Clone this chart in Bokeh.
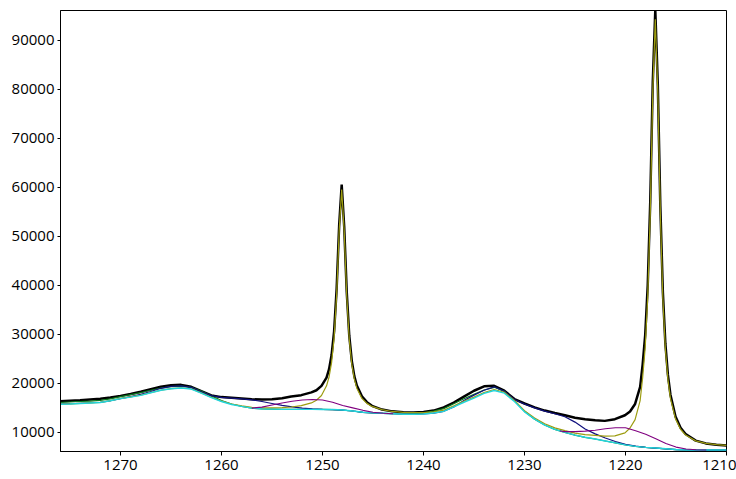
from bokeh.plotting import figure
from bokeh.models import Range1d, FixedTicker
from bokeh.embed import file_html
from bokeh.resources import INLINE

# ---------------- data ----------------
# x grid (binding energy, eV) for the smooth, broad curves
energy_coarse = [1276, 1275, 1274, 1273, 1272, 1271, 1270, 1269, 1268, 1267,
                 1266, 1265, 1264, 1263, 1262, 1261, 1260, 1259, 1258, 1257,
                 1256, 1255, 1254, 1253, 1252, 1251, 1250, 1249, 1248, 1247,
                 1246, 1245, 1244, 1243, 1242, 1241, 1240, 1239, 1238, 1237,
                 1236, 1235, 1234, 1233, 1232, 1231, 1230, 1229, 1228, 1227,
                 1226, 1225, 1224, 1223, 1222, 1221, 1220, 1219, 1218, 1217,
                 1216, 1215, 1214, 1213, 1212, 1211, 1210]

cyan_bg = [15750, 15800, 15900, 16000, 16100, 16450, 16900, 17200, 17550, 18100,
           18600, 18900, 19050, 18850, 18000, 17100, 16300, 15700, 15300, 14950,
           14800, 14750, 14700, 14700, 14700, 14700, 14680, 14660, 14560, 14370,
           14100, 14000, 13900, 13800, 13700, 13700, 13750, 13950, 14300, 15200,
           16150, 17000, 17950, 18550, 18000, 16300, 14200, 12700, 11500, 10600,
           10000, 9450, 9000, 8650, 8250, 7850, 7450, 7150, 6950, 6800,
           6650, 6500, 6420, 6400, 6400, 6400, 6400]

green_sum = [16100, 16200, 16300, 16400, 16550, 16850, 17300, 17700, 18100, 18600,
             19050, 19350, 19450, 19200, 18450, 17450, 16500, 15800, 15300, 14950,
             14800, 14750, 14700, 14700, 14700, 14700, 14680, 14660, 14560, 14370,
             14100, 14000, 13900, 13800, 13750, 13800, 14000, 14350, 14850, 15850,
             16850, 17750, 18650, 19200, 18400, 16500, 14300, 12700, 11500, 10600,
             10000, 9450, 9000, 8650, 8250, 7850, 7450, 7150, 6950, 6800,
             6650, 6500, 6420, 6400, 6400, 6400, 6400]

navy_sum = [15800, 15850, 15950, 16050, 16150, 16450, 16900, 17300, 17750, 18350,
            19000, 19400, 19500, 19200, 18300, 17500, 17150, 17000, 16850, 16650,
            16300, 15900, 15500, 15200, 14950, 14800, 14700, 14660, 14560, 14370,
            14100, 14000, 13900, 13800, 13700, 13700, 13750, 13950, 14300, 15200,
            16500, 17600, 18600, 19300, 18400, 16700, 15800, 15000, 14350, 13800,
            13200, 12100, 10700, 9700, 8850, 8150, 7550, 7200, 6950, 6800,
            6650, 6500, 6420, 6400, 6400, 6400, 6400]

# purple broad components
purple1_x = [1257, 1256, 1255, 1254, 1253, 1252, 1251, 1250, 1249, 1248,
             1247, 1246, 1245, 1244, 1243]
purple1_y = [14950, 15150, 15600, 16000, 16350, 16600, 16700, 16600, 16150, 15500,
             15000, 14500, 14100, 13900, 13800]
purple2_x = [1226.5, 1226, 1225, 1224, 1223, 1222, 1221, 1220, 1219, 1218,
             1217, 1216, 1215, 1214, 1213, 1212]
purple2_y = [10300, 10150, 10150, 10250, 10450, 10750, 10950, 10950, 10350, 9600,
             8700, 7750, 7000, 6600, 6450, 6400]

# finer x grid for the measured data and the sharp-peak fit
energy_fine = [1276, 1275, 1274, 1273, 1272, 1271, 1270, 1269, 1268, 1267,
               1266, 1265, 1264, 1263, 1262, 1261, 1260, 1259, 1258, 1257,
               1256, 1255, 1254,
               1253.1, 1252.1, 1251.1, 1250.6, 1250.1, 1249.6, 1249.35, 1249.1,
               1248.85, 1248.6, 1248.35, 1248.1, 1247.85, 1247.6, 1247.35, 1247.1,
               1246.85, 1246.6, 1246.1, 1245.6, 1245.1, 1244.1, 1243.1,
               1242, 1241, 1240, 1239, 1238, 1237, 1236, 1235, 1234, 1233,
               1232, 1231, 1230, 1229, 1228, 1227, 1226, 1225, 1224, 1223,
               1222.05, 1221.05, 1220.05, 1219.55, 1219.05, 1218.55, 1218.3, 1218.05,
               1217.8, 1217.55, 1217.3, 1217.05, 1216.8, 1216.55, 1216.3, 1216.05,
               1215.8, 1215.55, 1215.05, 1214.55, 1214.05, 1213.05, 1212.05, 1211, 1210]

measured = [16350, 16450, 16550, 16700, 16850, 17100, 17450, 17850, 18300, 18800,
            19300, 19600, 19700, 19300, 18400, 17550, 17200, 17050, 16900, 16750,
            16700, 16750, 16950,
            17310, 17600, 18160, 18600, 19500, 21180, 22890, 25780,
            30620, 39260, 52240, 60560, 51960, 38650, 29730, 24600,
            21480, 19560, 17360, 16170, 15420, 14660, 14290,
            14100, 14050, 14150, 14450, 15100, 16100, 17300, 18500, 19400, 19500,
            18500, 16800, 15900, 15100, 14450, 13950, 13500, 13000, 12700, 12500,
            12350, 12700, 13500, 14250, 15800, 19300, 23900, 29860,
            39970, 57080, 81440, 96200, 80960, 56070, 38590, 28050,
            21720, 17700, 13260, 10940, 9660, 8320, 7750, 7500, 7340]

olive_fit = [15770, 15820, 15920, 16020, 16120, 16480, 16930, 17240, 17590, 18130,
             18640, 18945, 19100, 18905, 18060, 17175, 16390, 15800, 15420, 15100,
             14990, 15000, 15050,
             15180, 15450, 16010, 16560, 17530, 19500, 21310, 24245,
             29250, 37990, 51135, 59540, 51060, 37830, 29010, 23920,
             20910, 19030, 16940, 15920, 15300, 14640, 14270,
             14075, 14020, 14030, 14200, 14530, 15415, 16360, 17205, 18150, 18745,
             18195, 16510, 14420, 12945, 11775, 10915, 10370, 9860, 9540, 9380,
             9250, 9300, 9900, 10900, 12600, 16500, 21200, 27260,
             37520, 54780, 79340, 94300, 79260, 54620, 37290, 26950,
             20820, 16950, 12760, 10640, 9460, 8270, 7750, 7500, 7340]

x_ticks = [1270, 1260, 1250, 1240, 1230, 1220, 1210]
y_ticks = [10000, 20000, 30000, 40000, 50000, 60000, 70000, 80000, 90000]

# ---------------- figure ----------------
p = figure(width=736, height=479, output_backend="svg", toolbar_location=None,
           x_range=Range1d(1275.94, 1210), y_range=Range1d(6100, 96100))
p.min_border_left = 60
p.min_border_right = 10
p.min_border_top = 10
p.min_border_bottom = 28
p.background_fill_color = "white"
p.border_fill_color = "white"
p.outline_line_color = "black"
p.outline_line_width = 1
p.outline_line_alpha = 1
p.grid.visible = False

for ax in (p.xaxis[0], p.yaxis[0]):
    ax.axis_line_color = "black"
    ax.major_tick_line_color = "black"
    ax.minor_tick_line_color = None
    ax.major_tick_in = 0
    ax.major_label_text_font = "Open Sans"
    ax.major_label_text_font_size = "15px"
    ax.major_label_text_color = "black"
p.xaxis[0].ticker = FixedTicker(ticks=x_ticks)
p.yaxis[0].ticker = FixedTicker(ticks=y_ticks)
p.xaxis[0].major_tick_out = 4
p.xaxis[0].major_label_standoff = 4
p.yaxis[0].major_tick_out = 3
p.yaxis[0].major_label_standoff = 3

# measured spectrum (thick black)
p.line(energy_fine, measured, line_color="black", line_width=2.5)
# broad components / backgrounds
p.line(energy_coarse, green_sum, line_color="#0a7a1e", line_width=1.2)
p.line(energy_coarse, navy_sum, line_color="#10107e", line_width=1.2)
p.line(energy_fine, olive_fit, line_color="#9c9c10", line_width=1.2)
p.line(energy_coarse, cyan_bg, line_color="#22d4dc", line_width=1.4)
p.line(purple1_x, purple1_y, line_color="#800080", line_width=1.1)
p.line(purple2_x, purple2_y, line_color="#800080", line_width=1.1)

open("out.html", "w").write(file_html(p, INLINE))
